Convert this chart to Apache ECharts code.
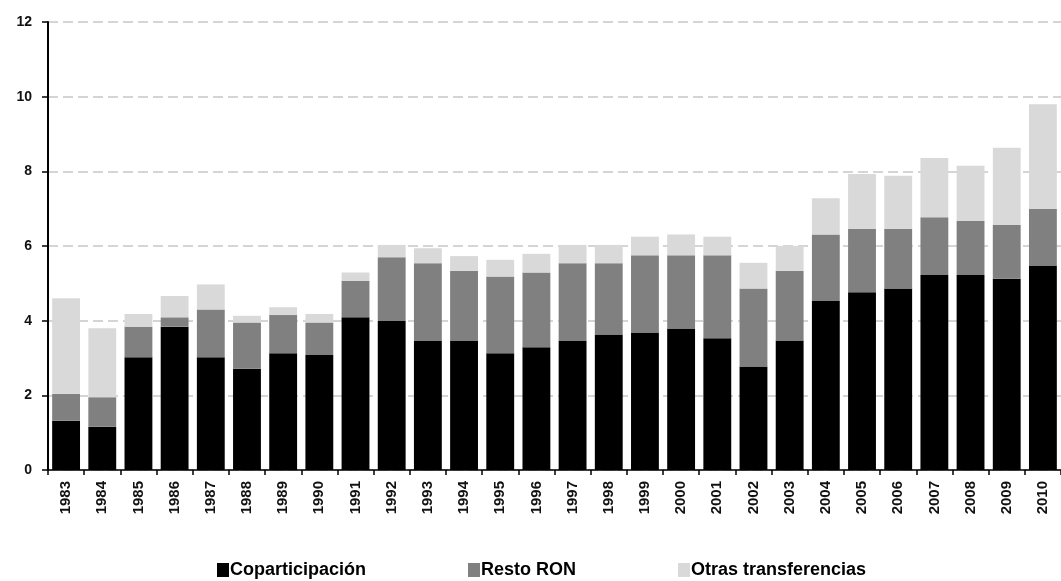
<!DOCTYPE html>
<html>
<head>
<meta charset="utf-8">
<script src="https://cdn.jsdelivr.net/npm/echarts@6/dist/echarts.min.js"></script>
<style>
  html, body { margin: 0; padding: 0; background: #ffffff; }
  #chart { width: 1061px; height: 581px; }
</style>
</head>
<body>
<div id="chart"></div>
<script>
// Years on the category axis
const years = ['1983','1984','1985','1986','1987','1988','1989','1990','1991','1992',
  '1993','1994','1995','1996','1997','1998','1999','2000','2001','2002',
  '2003','2004','2005','2006','2007','2008','2009','2010'];

// Stacked components (each series adds on top of the previous one)
const coparticipacion = [1.32,1.16,3.02,3.84,3.02,2.71,3.13,3.08,4.09,3.99,
  3.47,3.47,3.13,3.29,3.47,3.63,3.68,3.79,3.53,2.77,
  3.47,4.53,4.76,4.86,5.22,5.22,5.12,5.48];
const restoRON = [0.72,0.79,0.82,0.25,1.28,1.24,1.02,0.87,0.98,1.71,
  2.07,1.87,2.05,2.00,2.07,1.91,2.07,1.96,2.22,2.09,
  1.87,1.78,1.70,1.60,1.55,1.45,1.44,1.51];
const otrasTransferencias = [2.56,1.85,0.34,0.57,0.67,0.18,0.21,0.23,0.22,0.33,
  0.40,0.39,0.45,0.50,0.49,0.49,0.50,0.56,0.50,0.69,
  0.66,0.97,1.47,1.42,1.59,1.48,2.07,2.81];

// Value axis ticks
const yTicks = [0, 2, 4, 6, 8, 10, 12];

const seriesNames = ['Coparticipación', 'Resto RON', 'Otras transferencias'];
const seriesColors = ['#000000', '#808080', '#d9d9d9'];
const seriesData = [coparticipacion, restoRON, otrasTransferencias];

const FONT = '"Liberation Sans", Arial, sans-serif';
const chart = echarts.init(document.getElementById('chart'), null, { renderer: 'canvas' });

const legendLefts = [217, 468, 678];

chart.setOption({
  animation: false,
  backgroundColor: '#ffffff',
  grid: { left: 48, right: -10, top: 22, bottom: 111, containLabel: false },
  legend: seriesNames.map((name, i) => ({
    data: [name],
    left: legendLefts[i],
    top: 561,
    padding: 0,
    itemWidth: 12,
    itemHeight: 14,
    icon: 'rect',
    textStyle: {
      fontFamily: FONT, fontWeight: 'bold', fontSize: 18, color: '#000',
      padding: [0, 0, 0, -4]
    }
  })),
  xAxis: {
    type: 'category',
    data: years,
    boundaryGap: true,
    axisLine: { show: true, lineStyle: { color: '#000', width: 1.5 } },
    axisTick: { show: true, alignWithLabel: false, length: 5, lineStyle: { color: '#000', width: 1.5 } },
    axisLabel: {
      rotate: 90, margin: 11, interval: 0,
      fontFamily: FONT, fontWeight: 'bold', fontSize: 15, color: '#111'
    },
    splitLine: { show: false }
  },
  yAxis: {
    type: 'value',
    min: yTicks[0],
    max: yTicks[yTicks.length - 1],
    interval: yTicks[1] - yTicks[0],
    axisLine: { show: true, lineStyle: { color: '#000', width: 2 } },
    axisTick: { show: true, length: 6, lineStyle: { color: '#000', width: 1.5 } },
    axisLabel: {
      margin: 16,
      fontFamily: FONT, fontWeight: 'bold', fontSize: 14, color: '#111'
    },
    splitLine: { show: true, lineStyle: { color: '#c8c8c8', width: 1.5, type: [10, 5] } }
  },
  series: seriesNames.map((name, i) => ({
    name: name,
    type: 'bar',
    stack: 'total',
    data: seriesData[i],
    barWidth: '77%',
    itemStyle: { color: seriesColors[i] },
    emphasis: { disabled: true }
  }))
});
</script>
</body>
</html>
